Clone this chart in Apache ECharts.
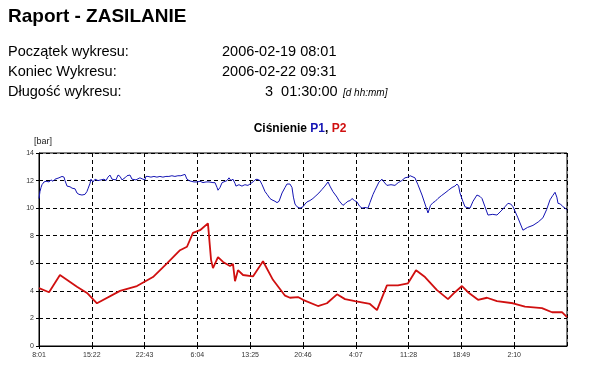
<!DOCTYPE html>
<html lang="pl">
<head>
    <meta charset="UTF-8">
    <title>Raport - ZASILANIE</title>
    <script src="https://cdn.jsdelivr.net/npm/echarts@6.0.0/dist/echarts.min.js"></script>
    <style>
        html, body { margin: 0; padding: 0; background: #fff; }
        #chart { width: 600px; height: 392px; }
    </style>
</head>
<body>
<div id="chart"></div>
<script>
    // czas w minutach od początku wykresu (2006-02-19 08:01), wartości w barach
    var startMinute = 8 * 60 + 1;
    var tickStep = 441;
    var totalMinutes = 4410;

    var p1Time = [0, 8, 17, 25, 33, 42, 50, 59, 67, 75, 84, 100, 117, 134, 150, 167, 175, 192, 200, 209,
        217, 234, 242, 259, 276, 301, 317, 334, 359, 384, 400, 409, 426, 434, 443, 451, 468, 493, 518, 543,
        560, 576, 593, 610, 626, 643, 660, 677, 693, 702, 718, 735, 760, 777, 793, 810, 818, 843, 868, 885,
        893, 910, 935, 960, 985, 1010, 1035, 1060, 1085, 1110, 1135, 1160, 1185, 1200, 1219, 1236, 1253, 1270, 1295, 1320,
        1345, 1370, 1395, 1420, 1453, 1470, 1487, 1495, 1512, 1529, 1545, 1570, 1587, 1603, 1620, 1637, 1645, 1670, 1695, 1720,
        1745, 1762, 1787, 1804, 1821, 1846, 1863, 1888, 1905, 1929, 1946, 1971, 1988, 2005, 2030, 2055, 2071, 2096, 2113, 2125,
        2138, 2155, 2180, 2205, 2222, 2238, 2263, 2288, 2313, 2338, 2363, 2388, 2414, 2430, 2455, 2489, 2505, 2539, 2560, 2580,
        2600, 2614, 2635, 2656, 2677, 2698, 2723, 2748, 2764, 2790, 2806, 2840, 2865, 2881, 2906, 2940, 2973, 3000, 3030, 3057,
        3082, 3100, 3115, 3140, 3165, 3199, 3224, 3249, 3270, 3291, 3310, 3332, 3360, 3391, 3420, 3450, 3474, 3491, 3505, 3516,
        3540, 3558, 3575, 3600, 3625, 3658, 3683, 3700, 3725, 3750, 3790, 3825, 3860, 3892, 3917, 3940, 3959, 4000, 4042, 4080,
        4126, 4170, 4209, 4240, 4268, 4290, 4310, 4325, 4335, 4355, 4376, 4395, 4410];
    var p1Values = [10.7, 11.2, 11.5, 11.7, 11.6, 11.9, 11.8, 11.95, 11.85, 12.0, 11.9, 12.05, 11.95, 12.1, 12.0, 12.2, 12.1, 12.3, 12.35, 12.25,
        12.0, 11.6, 11.5, 11.55, 11.45, 11.4, 11.1, 11.0, 10.95, 11.0, 11.2, 11.4, 11.8, 12.1, 12.2, 11.9, 12.1, 12.0, 12.05, 12.1,
        12.0, 12.25, 12.4, 12.1, 12.0, 12.05, 12.4, 12.3, 12.05, 12.0, 12.2, 12.35, 12.4, 12.1, 12.0, 12.05, 12.05, 12.2, 12.1, 12.05,
        12.3, 12.3, 12.25, 12.3, 12.25, 12.3, 12.25, 12.3, 12.3, 12.35, 12.3, 12.35, 12.35, 12.4, 12.45, 12.1, 12.0, 11.95, 11.9, 11.9,
        11.95, 11.85, 11.9, 11.9, 11.85, 11.85, 11.5, 11.3, 11.5, 11.85, 11.9, 12.0, 12.2, 12.0, 12.1, 11.8, 11.6, 11.7, 11.6, 11.7,
        11.65, 11.75, 11.9, 12.05, 12.1, 12.0, 11.7, 11.2, 11.0, 10.7, 10.6, 10.5, 10.4, 10.5, 11.1, 11.5, 11.75, 11.75, 11.5, 10.8,
        10.3, 10.1, 10.0, 10.1, 10.3, 10.45, 10.55, 10.7, 10.9, 11.1, 11.35, 11.6, 11.9, 11.6, 11.2, 10.8, 10.55, 10.2, 10.35, 10.5,
        10.55, 10.7, 10.55, 10.45, 10.15, 10.0, 10.05, 10.0, 10.4, 11.0, 11.3, 11.9, 12.1, 11.9, 11.65, 11.7, 11.65, 11.85, 12.0, 12.2,
        12.25, 12.35, 12.4, 12.2, 11.7, 10.95, 10.3, 9.65, 10.2, 10.4, 10.5, 10.7, 10.9, 11.1, 11.3, 11.5, 11.6, 11.75, 11.6, 11.1,
        10.5, 10.1, 10.05, 10.0, 10.5, 10.95, 10.85, 10.7, 10.1, 9.5, 9.55, 9.5, 9.8, 10.1, 10.35, 10.3, 10.1, 9.3, 8.4, 8.6,
        8.75, 9.0, 9.3, 9.9, 10.6, 10.9, 11.15, 10.8, 10.35, 10.3, 10.1, 10.0, 9.85];

    var p2Time = [0, 84, 175, 317, 401, 484, 677, 818, 952, 1069, 1178, 1236, 1286, 1345, 1411, 1437, 1453, 1495, 1537, 1595,
        1620, 1637, 1662, 1704, 1787, 1871, 1954, 2055, 2096, 2163, 2205, 2330, 2405, 2489, 2556, 2639, 2764, 2823, 2906, 2998,
        3082, 3149, 3224, 3324, 3416, 3474, 3533, 3583, 3667, 3742, 3825, 3959, 4059, 4201, 4285, 4368, 4410];
    var p2Values = [4.2, 3.9, 5.15, 4.3, 3.85, 3.1, 4.0, 4.35, 5.0, 6.0, 6.95, 7.2, 8.2, 8.4, 8.9, 6.25, 5.65, 6.45, 6.1, 5.8,
        5.95, 4.7, 5.5, 5.15, 5.05, 6.15, 4.8, 3.65, 3.5, 3.55, 3.35, 2.9, 3.1, 3.75, 3.4, 3.25, 3.05, 2.6, 4.4, 4.4,
        4.55, 5.5, 5.0, 4.05, 3.4, 3.9, 4.35, 3.9, 3.35, 3.5, 3.25, 3.1, 2.85, 2.75, 2.45, 2.45, 2.1];

    function pairs(t, v) {
        return t.map(function (x, i) { return [x, v[i]]; });
    }

    function timeLabel(v) {
        var m = (startMinute + v) % 1440;
        var mm = m % 60;
        return Math.floor(m / 60) + ':' + (mm < 10 ? '0' + mm : mm);
    }

    var font = '"Liberation Sans", Arial, sans-serif';
    var dashed = {color: '#000', type: [4, 3], width: 1};
    var rowFont = '14.5px ' + font;

    var chart = echarts.init(document.getElementById('chart'));
    chart.setOption({
        animation: false,
        textStyle: {fontFamily: font},
        title: [{
            text: 'Raport - ZASILANIE',
            left: 3, top: 2,
            textStyle: {fontSize: 19, fontWeight: 'bold', color: '#000', fontFamily: font}
        }, {
            text: '{k|Ciśnienie }{b|P1}{k|, }{r|P2}',
            left: 'center', top: 118,
            textStyle: {
                fontFamily: font,
                rich: {
                    k: {fontSize: 12, fontWeight: 'bold', color: '#000', fontFamily: font},
                    b: {fontSize: 12, fontWeight: 'bold', color: '#1414b4', fontFamily: font},
                    r: {fontSize: 12, fontWeight: 'bold', color: '#d01010', fontFamily: font}
                }
            }
        }],
        graphic: [
            {type: 'text', left: 8, top: 44, style: {text: 'Początek wykresu:', font: rowFont, fill: '#000'}},
            {type: 'text', left: 8, top: 64, style: {text: 'Koniec Wykresu:', font: rowFont, fill: '#000'}},
            {type: 'text', left: 8, top: 84, style: {text: 'Długość wykresu:', font: rowFont, fill: '#000'}},
            {type: 'text', left: 222, top: 44, style: {text: '2006-02-19 08:01', font: rowFont, fill: '#000'}},
            {type: 'text', left: 222, top: 64, style: {text: '2006-02-22 09:31', font: rowFont, fill: '#000'}},
            {type: 'text', left: 265, top: 84, style: {text: '3  01:30:00', font: rowFont, fill: '#000'}},
            {type: 'text', left: 343, top: 88, style: {text: '[d hh:mm]', font: 'italic 10px ' + font, fill: '#000'}},
            {type: 'text', left: 34, top: 137, style: {text: '[bar]', font: '9px ' + font, fill: '#222'}}
        ],
        grid: {
            left: 39, right: 33, top: 153, bottom: 46,
            show: true, borderColor: '#000', borderWidth: 1, backgroundColor: '#fff'
        },
        xAxis: {
            type: 'value',
            min: 0, max: totalMinutes, interval: tickStep,
            axisLine: {lineStyle: {color: '#000'}},
            axisTick: {show: true, length: 3, lineStyle: {color: '#000'}},
            axisLabel: {
                formatter: timeLabel, fontSize: 7, color: '#333', margin: 6,
                showMaxLabel: false
            },
            splitLine: {show: true, lineStyle: dashed}
        },
        yAxis: {
            type: 'value',
            min: 0, max: 14, interval: 2,
            axisLine: {show: true, lineStyle: {color: '#000'}},
            axisTick: {show: true, length: 3, lineStyle: {color: '#000'}},
            axisLabel: {fontSize: 7, color: '#333', margin: 5},
            splitLine: {show: true, lineStyle: dashed}
        },
        series: [{
            name: 'P1',
            type: 'line',
            data: pairs(p1Time, p1Values),
            showSymbol: false,
            lineStyle: {color: '#1414b4', width: 1},
            z: 3
        }, {
            name: 'P2',
            type: 'line',
            data: pairs(p2Time, p2Values),
            showSymbol: false,
            lineStyle: {color: '#d01010', width: 1.8},
            z: 4
        }]
    });
</script>
</body>
</html>
